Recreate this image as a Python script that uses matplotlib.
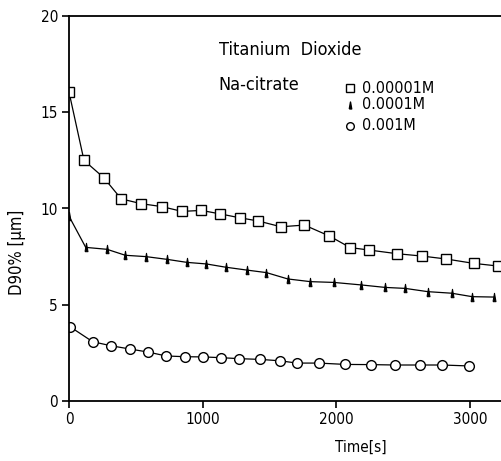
import numpy as np
import matplotlib
matplotlib.use("Agg")
import matplotlib.pyplot as plt

plt.rcParams['font.family'] = ['DejaVu Sans']
plt.rcParams['font.stretch'] = 'condensed'

# Na-citrate 0.00001M (open squares)
t_sq = [0, 112, 260, 390, 540, 693, 845, 990, 1130, 1275, 1416, 1585, 1760,
        1947, 2102, 2246, 2455, 2638, 2817, 3025, 3210]
d_sq = [16.05, 12.5, 11.6, 10.5, 10.25, 10.1, 9.85, 9.9, 9.72, 9.52, 9.35,
        9.05, 9.14, 8.57, 7.97, 7.84, 7.65, 7.53, 7.38, 7.15, 7.01]

# Na-citrate 0.0001M (filled triangles)
t_tr = [0, 125, 284, 421, 576, 731, 883, 1027, 1172, 1331, 1476, 1636, 1805,
        1980, 2184, 2364, 2513, 2683, 2860, 3014, 3174]
d_tr = [9.6, 7.98, 7.88, 7.57, 7.5, 7.36, 7.2, 7.12, 6.95, 6.8, 6.67, 6.34,
        6.2, 6.16, 6.03, 5.9, 5.85, 5.68, 5.6, 5.42, 5.4]

# Na-citrate 0.001M (open circles)
t_ci = [7, 177, 314, 456, 593, 726, 870, 1005, 1137, 1274, 1431, 1575, 1705,
        1867, 2067, 2259, 2438, 2625, 2792, 2992]
d_ci = [3.86, 3.08, 2.87, 2.7, 2.54, 2.34, 2.3, 2.29, 2.25, 2.2, 2.16, 2.09,
        1.97, 1.97, 1.9, 1.89, 1.87, 1.87, 1.87, 1.82]

labels = ['0.00001M', '0.0001M', '0.001M']

# narrow tall triangle like the printed one
tri = [(-0.35, -1.0), (0.35, -1.0), (0.0, 1.0), (-0.35, -1.0)]

fig = plt.figure(figsize=(5.01, 4.61), dpi=100)
ax = fig.add_axes([69 / 501, 60 / 461, 432 / 501, 385 / 461])

ax.plot(t_sq, d_sq, color='black', lw=0.9, marker='s', ms=6.5,
        mfc='white', mec='black', mew=1.0)
ax.plot(t_tr, d_tr, color='black', lw=0.9, marker=tri, ms=6,
        mfc='black', mec='black', mew=0.8)
ax.plot(t_ci, d_ci, color='black', lw=0.9, marker='o', ms=7,
        mfc='white', mec='black', mew=1.0)

ax.set_xlim(0, 3230)
ax.set_ylim(0, 20)
ax.set_xticks([0, 1000, 2000, 3000])
ax.set_yticks([0, 5, 10, 15, 20])
ax.spines['right'].set_visible(False)
for s in ['left', 'top', 'bottom']:
    ax.spines[s].set_linewidth(1.3)
ax.tick_params(direction='out', length=5, width=1.2, labelsize=11, pad=3)

ax.set_xlabel('Time[s]', fontsize=11)
ax.xaxis.set_label_coords((361 - 69) / 432, -0.10)
ax.set_ylabel('D90% [µm]', fontsize=12)
ax.yaxis.set_label_coords(-0.10, 0.385)

# annotation block
ax.text(1120, 18.25, 'Titanium  Dioxide', fontsize=13, va='center')
ax.text(1120, 16.4, 'Na-citrate', fontsize=13, va='center')
lx = 2100
ly = [16.25, 15.4, 14.3]
ax.plot(lx, ly[0], 's', ms=5.5, mfc='white', mec='black', mew=1.0)
ax.plot(lx, ly[1], marker=tri, ms=5, mfc='black', mec='black', ls='none')
ax.plot(lx, ly[2], 'o', ms=5.5, mfc='white', mec='black', mew=1.0)
for y, lab in zip(ly, labels):
    ax.text(lx + 90, y, lab, fontsize=11.5, va='center')

fig.savefig('out.png', dpi=100)
